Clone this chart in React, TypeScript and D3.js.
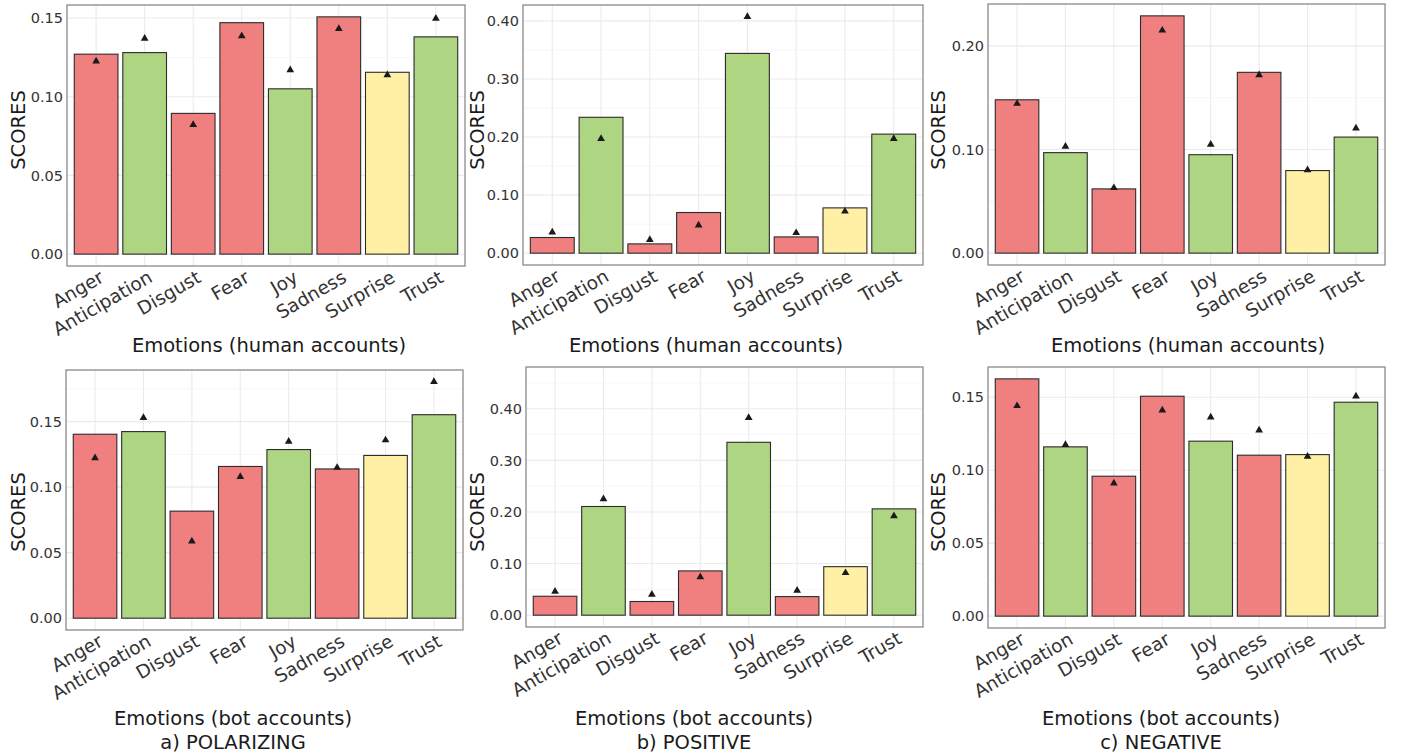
import * as d3 from "d3";

const emotions = ["Anger", "Anticipation", "Disgust", "Fear", "Joy", "Sadness", "Surprise", "Trust"];
// sentiment group of each emotion, drives the fill
const emotionGroup = ["neg", "pos", "neg", "neg", "pos", "neg", "neu", "pos"];
const groupFill: Record<string, string> = { neg: "#F08080", pos: "#AED581", neu: "#FFF0A6" };

// a) POLARIZING
const polHumanBars = [0.127, 0.128, 0.0894, 0.147, 0.105, 0.1507, 0.1155, 0.138];
const polHumanPoints = [0.1225, 0.137, 0.0822, 0.1386, 0.117, 0.1432, 0.1138, 0.1496];
const polBotBars = [0.1404, 0.1424, 0.0817, 0.1158, 0.1287, 0.1139, 0.1242, 0.1553];
const polBotPoints = [0.1222, 0.153, 0.0587, 0.108, 0.1348, 0.1149, 0.1359, 0.1804];

// b) POSITIVE
const posHumanBars = [0.027, 0.234, 0.016, 0.07, 0.344, 0.028, 0.078, 0.205];
const posHumanPoints = [0.036, 0.197, 0.023, 0.048, 0.407, 0.035, 0.072, 0.197];
const posBotBars = [0.0367, 0.2106, 0.0265, 0.0858, 0.335, 0.036, 0.094, 0.206];
const posBotPoints = [0.046, 0.225, 0.04, 0.074, 0.3826, 0.0477, 0.082, 0.192];

// c) NEGATIVE
const negHumanBars = [0.148, 0.097, 0.062, 0.229, 0.095, 0.1745, 0.0797, 0.112];
const negHumanPoints = [0.1443, 0.103, 0.063, 0.215, 0.1048, 0.172, 0.0803, 0.1205];
const negBotBars = [0.1626, 0.116, 0.0959, 0.1507, 0.1199, 0.1103, 0.1107, 0.1466];
const negBotPoints = [0.1441, 0.1174, 0.0911, 0.1411, 0.1363, 0.1274, 0.1094, 0.1507];

const ticksA = [0, 0.05, 0.1, 0.15];
const ticksB = [0, 0.1, 0.2, 0.3, 0.4];
const ticksC = [0, 0.1, 0.2];

const FONT = "DejaVu Sans, Verdana, sans-serif";

type PanelProps = {
  bars: number[];
  points: number[];
  ticks: number[];
  yUpper?: number;
  box: { x0: number; x1: number; y0: number; y1: number };
  ylabX: number;
  ylabY: number;
  title: string;
  titleX: number;
  titleY: number;
  caption?: string;
  captionY?: number;
};

function Panel(p: PanelProps) {
  const { box } = p;
  let top = d3.max([...p.bars, ...p.points])!;
  if (p.yUpper) top = Math.max(top, p.yUpper);
  const pad = top * 0.05;
  const y = d3.scaleLinear().domain([-pad, top + pad]).range([box.y1, box.y0]);
  const x = d3.scaleBand<string>().domain(emotions).range([box.x0, box.x1]).paddingInner(0.1).paddingOuter(0.15);
  const step = p.ticks[1] - p.ticks[0];
  const minor = d3.range(p.ticks[0] - step / 2, top + pad, step).filter((v) => v > -pad && v < top + pad);
  const tri = d3.symbol().type(d3.symbolTriangle).size(26)()!;
  const cx = (e: string) => x(e)! + x.bandwidth() / 2;

  return (
    <g>
      <rect x={box.x0} y={box.y0} width={box.x1 - box.x0} height={box.y1 - box.y0} fill="#fff" />
      {minor.map((v) => (
        <line key={"m" + v} x1={box.x0} x2={box.x1} y1={y(v)} y2={y(v)} stroke="#F2F2F2" strokeWidth={0.6} />
      ))}
      {p.ticks.map((v) => (
        <line key={"g" + v} x1={box.x0} x2={box.x1} y1={y(v)} y2={y(v)} stroke="#EBEBEB" strokeWidth={1.1} />
      ))}
      {emotions.map((e) => (
        <line key={"v" + e} x1={cx(e)} x2={cx(e)} y1={box.y0} y2={box.y1} stroke="#EBEBEB" strokeWidth={1.1} />
      ))}
      {p.bars.map((v, i) => (
        <rect
          key={"b" + i}
          x={x(emotions[i])}
          y={y(v)}
          width={x.bandwidth()}
          height={y(0) - y(v)}
          fill={groupFill[emotionGroup[i]]}
          stroke="#2b2b2b"
          strokeWidth={1.1}
        />
      ))}
      {p.points.map((v, i) => (
        <path key={"p" + i} d={tri} transform={`translate(${cx(emotions[i])},${y(v)})`} fill="#1a1a1a" />
      ))}
      <rect x={box.x0} y={box.y0} width={box.x1 - box.x0} height={box.y1 - box.y0} fill="none" stroke="#808080" strokeWidth={1.2} />
      {p.ticks.map((v) => (
        <text key={"t" + v} x={box.x0 - 4} y={y(v)} dy="0.36em" textAnchor="end" fontSize={14.5} fill="#333">
          {v.toFixed(2)}
        </text>
      ))}
      {emotions.map((e) => (
        <text
          key={"x" + e}
          transform={`translate(${cx(e) + 9},${box.y1 + 15}) rotate(-30)`}
          textAnchor="end"
          fontSize={18.5}
          fill="#333"
        >
          {e}
        </text>
      ))}
      <text transform={`translate(${p.ylabX},${p.ylabY}) rotate(-90)`} textAnchor="middle" fontSize={19.5} fill="#1a1a1a">
        SCORES
      </text>
      <text x={p.titleX} y={p.titleY} textAnchor="middle" fontSize={19.5} fill="#1a1a1a">
        {p.title}
      </text>
      {p.caption && (
        <text x={p.titleX} y={p.captionY} textAnchor="middle" fontSize={19.5} fill="#1a1a1a">
          {p.caption}
        </text>
      )}
    </g>
  );
}

export default function App() {
  return (
    <svg
      width={1402}
      height={756}
      style={{ position: "absolute", left: 0, top: 0, background: "#fff" }}
      fontFamily={FONT}
    >
      <rect width={1402} height={756} fill="#fff" />
      <Panel bars={polHumanBars} points={polHumanPoints} ticks={ticksA}
        box={{ x0: 67, x1: 465, y0: 5, y1: 266 }} ylabX={25} ylabY={130}
        title="Emotions (human accounts)" titleX={269} titleY={352} />
      <Panel bars={posHumanBars} points={posHumanPoints} ticks={ticksB}
        box={{ x0: 523, x1: 923, y0: 5, y1: 265 }} ylabX={484} ylabY={130}
        title="Emotions (human accounts)" titleX={706} titleY={352} />
      <Panel bars={negHumanBars} points={negHumanPoints} ticks={ticksC}
        box={{ x0: 988, x1: 1385, y0: 4, y1: 265 }} ylabX={945} ylabY={130}
        title="Emotions (human accounts)" titleX={1188} titleY={352} />
      <Panel bars={polBotBars} points={polBotPoints} ticks={ticksA}
        box={{ x0: 66, x1: 463, y0: 370, y1: 630 }} ylabX={25} ylabY={512}
        title="Emotions (bot accounts)" titleX={233} titleY={725} caption="a) POLARIZING" captionY={749} />
      <Panel bars={posBotBars} points={posBotPoints} ticks={ticksB} yUpper={0.458}
        box={{ x0: 526, x1: 923, y0: 367, y1: 627 }} ylabX={484} ylabY={512}
        title="Emotions (bot accounts)" titleX={694} titleY={725} caption="b) POSITIVE" captionY={749} />
      <Panel bars={negBotBars} points={negBotPoints} ticks={ticksA}
        box={{ x0: 988, x1: 1385, y0: 367, y1: 628 }} ylabX={945} ylabY={512}
        title="Emotions (bot accounts)" titleX={1161} titleY={725} caption="c) NEGATIVE" captionY={749} />
    </svg>
  );
}
